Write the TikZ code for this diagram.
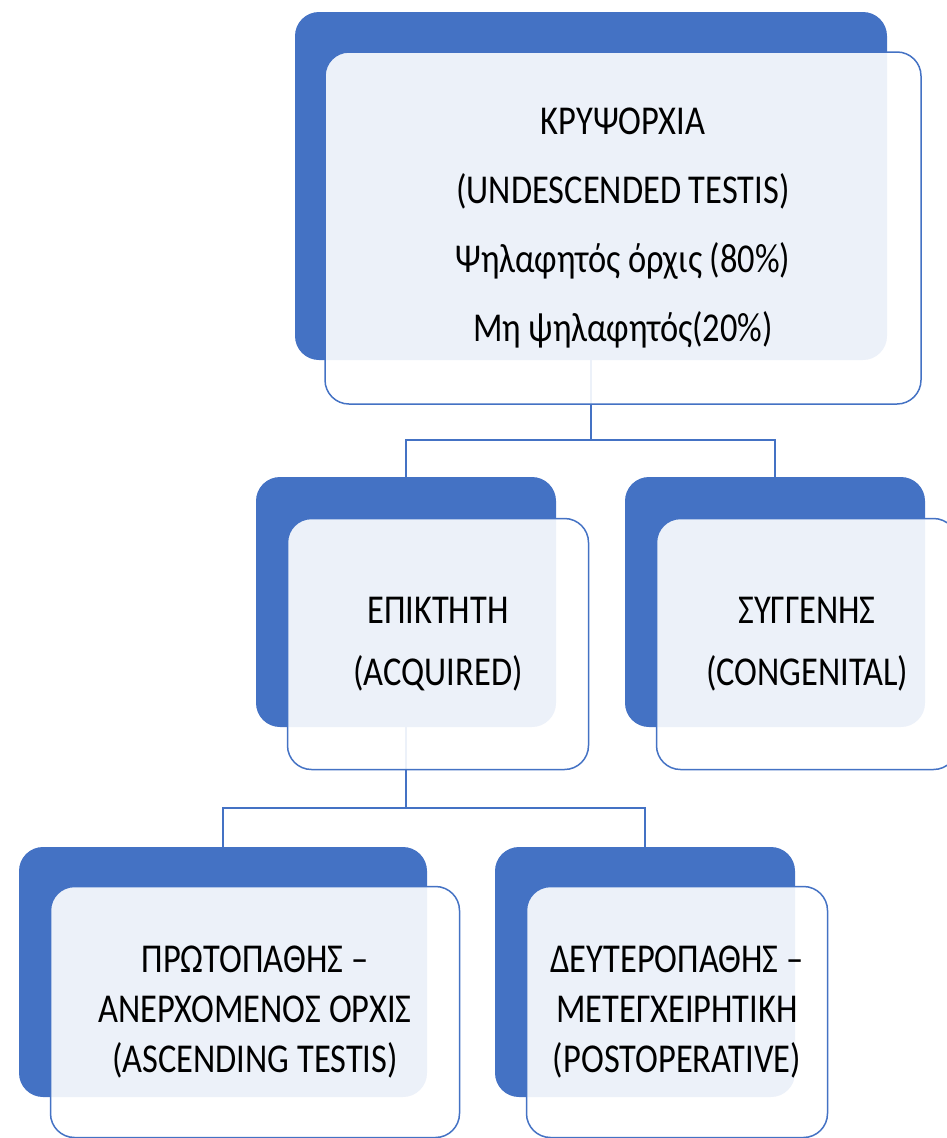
\documentclass[tikz,border=0pt]{standalone}
\usepackage{fontspec}
\setmainfont[FakeStretch=0.84]{Carlito}
\usetikzlibrary{positioning}
\definecolor{accent}{HTML}{4472C4}

\begin{document}
\begin{tikzpicture}[x=1pt,y=-1pt]
\tikzstyle{every node}=[inner sep=0pt, rounded corners=24pt]
\tikzstyle{back}=[fill=accent]
\tikzstyle{front}=[draw=accent, line width=1.5pt, fill=white, fill opacity=0.9, text opacity=1, align=center]
\tikzstyle{link}=[draw=accent, line width=1.8pt]
\useasboundingbox (0,0) rectangle (946,1138);
% back boxes
\draw (591,186) node (cryptoback) [back, minimum width=592pt, minimum height=348pt] {};
\draw (406,602) node (acquiredback) [back, minimum width=300pt, minimum height=250pt] {};
\draw (775,602) node (congenitalback) [back, minimum width=300pt, minimum height=250pt] {};
\draw (223,972) node (primaryback) [back, minimum width=408pt, minimum height=250pt] {};
\draw (645,972) node (secondaryback) [back, minimum width=300pt, minimum height=250pt] {};
% connectors
\draw[link] (cryptoback.south) -- ++(0,80) -| (acquiredback.north);
\draw[link] (cryptoback.south) -- ++(0,80) -| (congenitalback.north);
\draw[link] (acquiredback.south) -- ++(0,81) -| (primaryback.north);
\draw[link] (acquiredback.south) -- ++(0,81) -| (secondaryback.north);
% front boxes
\node (crypto) [front, minimum width=596pt, minimum height=352pt, font={\fontsize{41}{69}\selectfont}] at ([shift={(32,42)}]cryptoback) {ΚΡΥΨΟΡΧΙΑ\\(UNDESCENDED TESTIS)\\Ψηλαφητός όρχις (80\%)\\Μη ψηλαφητός(20\%)};
\node (acquired) [front, minimum width=301pt, minimum height=251pt, font={\fontsize{41}{62}\selectfont}] at ([shift={(32,42)}]acquiredback) {ΕΠΙΚΤΗΤΗ\\(ACQUIRED)};
\node (congenital) [front, minimum width=301pt, minimum height=251pt, font={\fontsize{41}{62}\selectfont}] at ([shift={(32,42)}]congenitalback) {ΣΥΓΓΕΝΗΣ\\(CONGENITAL)};
\node (primary) [front, minimum width=409pt, minimum height=251pt, font={\fontsize{41}{50}\selectfont}] at ([shift={(32,40)}]primaryback) {ΠΡΩΤΟΠΑΘΗΣ –\\ΑΝΕΡΧΟΜΕΝΟΣ ΟΡΧΙΣ\\(ASCENDING TESTIS)};
\node (secondary) [front, minimum width=301pt, minimum height=251pt, font={\fontsize{41}{50}\selectfont}] at ([shift={(32,40)}]secondaryback) {ΔΕΥΤΕΡΟΠΑΘΗΣ –\\ΜΕΤΕΓΧΕΙΡΗΤΙΚΗ\\(POSTOPERATIVE)};
\end{tikzpicture}
\end{document}
